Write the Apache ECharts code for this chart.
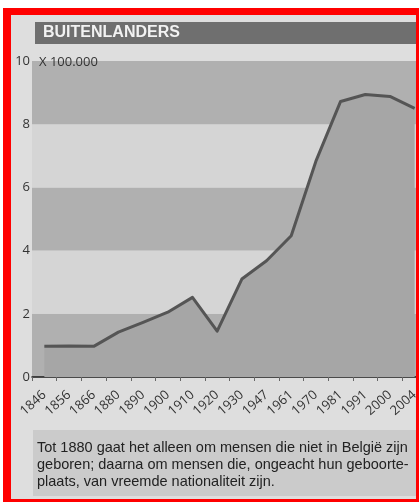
<!DOCTYPE html>
<html>
<head>
<meta charset="utf-8">
<script src="https://cdn.jsdelivr.net/npm/echarts@6/dist/echarts.min.js"></script>
<style>
html,body{margin:0;padding:0;background:#fff;overflow:hidden;}
#c{width:427px;height:502px;}
</style>
</head>
<body>
<div id="c"></div>
<script>
var years = ['1846','1856','1866','1880','1890','1900','1910','1920','1930','1947','1961','1970','1981','1991','2000','2004'];
var foreigners = [0.97, 0.98, 0.97, 1.42, 1.73, 2.05, 2.52, 1.45, 3.1, 3.68, 4.47, 6.83, 8.72, 8.94, 8.88, 8.5];
var yTicks = [0, 2, 4, 6, 8, 10];
var titleText = 'BUITENLANDERS';
var unitText = 'X 100.000';
var captionLines = [
  'Tot 1880 gaat het alleen om mensen die niet in België zijn',
  'geboren; daarna om mensen die, ongeacht hun geboorte-',
  'plaats, van vreemde nationaliteit zijn.'
];

var chart = echarts.init(document.getElementById('c'), null, {renderer:'canvas'});
var font = '"Open Sans", "Liberation Sans", sans-serif';
var red = '#ff0000';
var graphics = [
  {type:'rect', z:-20, shape:{x:0,y:0,width:427,height:502}, style:{fill:'#ffffff'}},
  {type:'rect', z:-19, shape:{x:11,y:15,width:405,height:484}, style:{fill:'#dedede'}},
  {type:'rect', z:-18, shape:{x:35,y:22,width:381,height:22}, style:{fill:'#6f6f6f'}},
  {type:'text', z:10, x:43, y:33, style:{text:titleText, fill:'#f2f2f2', font:'bold 16px "Liberation Sans", Arial, sans-serif', verticalAlign:'middle'}},
  {type:'text', z:10, x:39, y:62, style:{text:unitText, fill:'#333', font:'13px '+font, verticalAlign:'middle'}},
  {type:'rect', z:-18, shape:{x:33,y:430,width:383,height:66}, style:{fill:'#cbcbcb'}},
  // red frame on top
  {type:'rect', z:50, shape:{x:3,y:8,width:416,height:7}, style:{fill:red}},
  {type:'rect', z:50, shape:{x:3,y:8,width:8,height:494}, style:{fill:red}},
  {type:'rect', z:50, shape:{x:416,y:8,width:11,height:494}, style:{fill:red}},
  {type:'rect', z:50, shape:{x:3,y:499,width:424,height:3}, style:{fill:red}}
];
captionLines.forEach(function(t,i){
  graphics.push({type:'text', z:10, x:37, y:448+17*i, style:{text:t, fill:'#222', font:'14.5px "Liberation Sans", Arial, sans-serif', verticalAlign:'middle'}});
});

chart.setOption({
  animation:false,
  backgroundColor:'#ffffff',
  graphic: graphics,
  grid:{left:32, right:0, top:61, bottom:125, containLabel:false},
  xAxis:{
    type:'category',
    data: years,
    boundaryGap:true,
    axisLine:{show:true, lineStyle:{color:'#1a1a1a', width:1.5}},
    axisTick:{show:true, length:4, lineStyle:{color:'#666'}},
    axisLabel:{rotate:42, margin:16, color:'#333', fontSize:13, fontFamily:font, interval:0}
  },
  yAxis:{
    type:'value', min:0, max:10, interval:2,
    axisLine:{show:false}, axisTick:{show:false},
    splitLine:{show:false},
    splitArea:{show:true, areaStyle:{color:['#b0b0b0','#d5d5d5']}},
    axisLabel:{color:'#333', fontSize:13, fontFamily:font, margin:2,
      formatter:function(v){ return yTicks.indexOf(v) >= 0 ? String(v) : ''; }}
  },
  series:[{
    type:'line',
    data: foreigners,
    symbol:'none',
    smooth:false,
    lineStyle:{color:'#555', width:3, join:'round'},
    areaStyle:{color:'#a6a6a6', opacity:1},
    z:3
  }]
});
</script>
</body>
</html>
